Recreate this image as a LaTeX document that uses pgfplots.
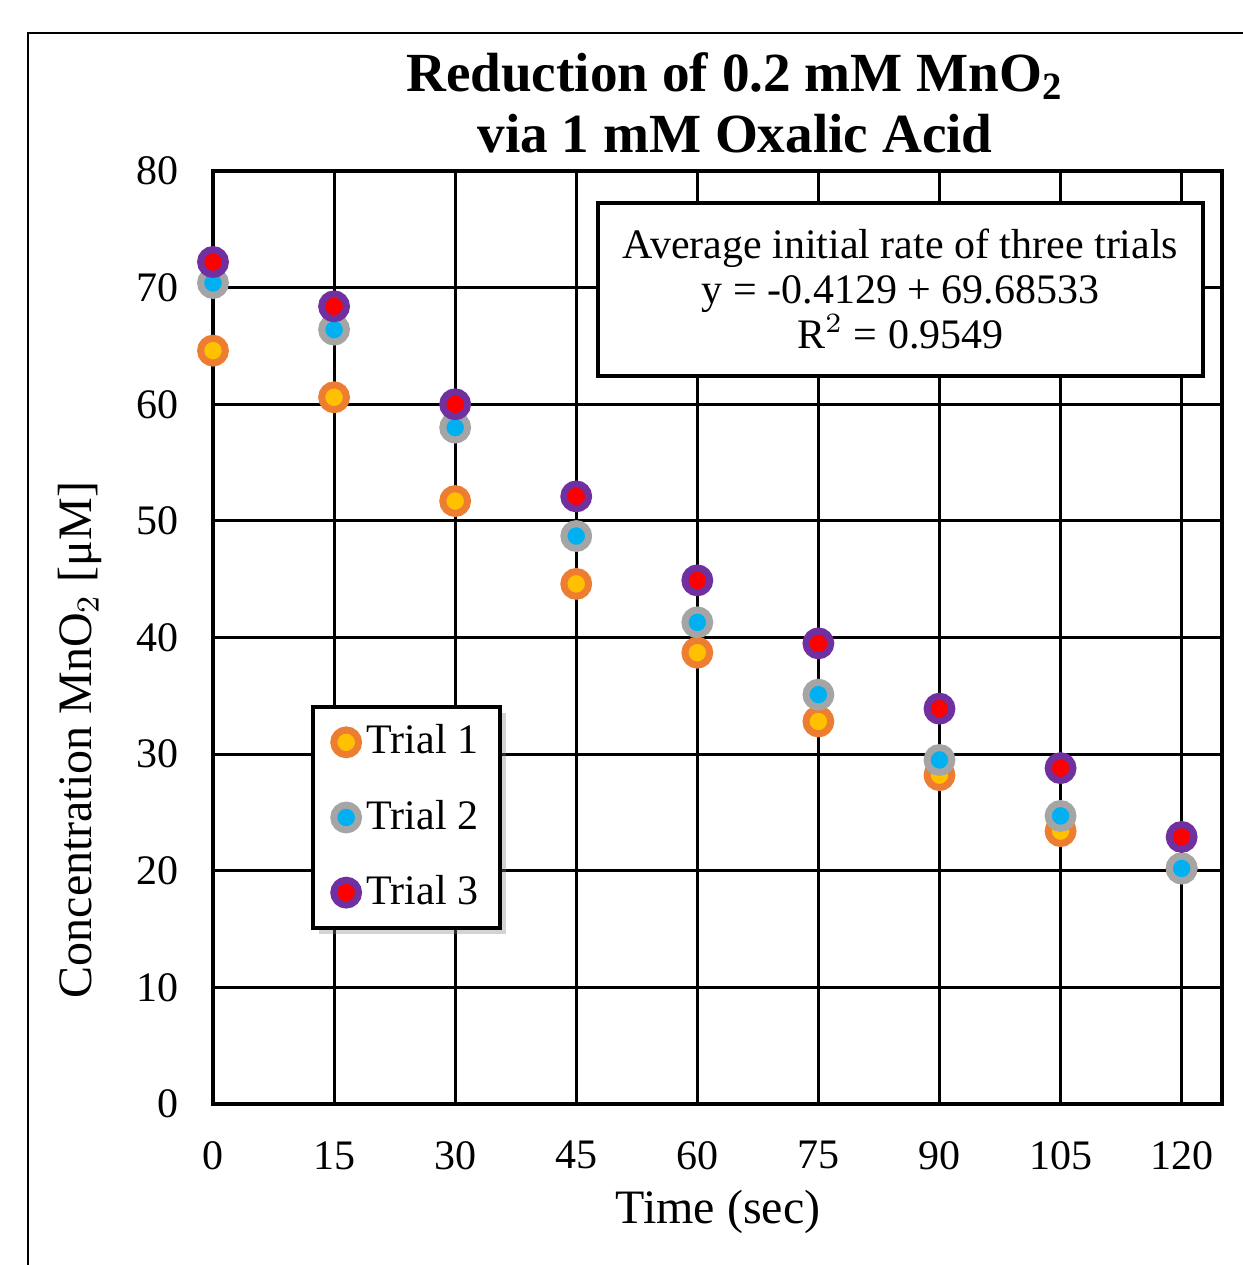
\documentclass[border=0pt]{standalone}
\usepackage{fontspec}
\setmainfont{Liberation Serif}
\usepackage{pgfplots}
\pgfplotsset{compat=1.18}
\usetikzlibrary{shadows}
\definecolor{ringA}{HTML}{ED7D31}
\definecolor{fillA}{HTML}{FFC000}
\definecolor{ringB}{HTML}{A5A5A5}
\definecolor{fillB}{HTML}{00B0F0}
\definecolor{ringC}{HTML}{7030A0}
\definecolor{fillC}{HTML}{FF0000}
\begin{document}
\begin{tikzpicture}
\useasboundingbox (0,0) rectangle (310.75pt,316.25pt);
% outer frame (chart area border)
\draw[line width=0.5pt] (7pt,0) -- (7pt,308pt) -- (310.75pt,308pt);
\begin{axis}[
    at={(53.25pt,40.25pt)}, anchor=south west,
    scale only axis,
    width=252.25pt, height=233.25pt,
    xmin=0, xmax=125, ymin=0, ymax=80,
    xtick={0,15,...,120}, ytick={0,10,...,80},
    major tick length=0pt,
    grid=major,
    grid style={black, line width=0.75pt},
    axis line style={line width=1pt},
    tick label style={font=\fontsize{10.5}{12.5}\selectfont},
    /pgf/number format/assume math mode=true,
    xticklabel style={yshift=-5.8pt},
    yticklabel style={xshift=-5pt},
    clip=false,
    legend style={at={(axis description cs:0.0971,0.4277)}, anchor=north west,
        draw=black, line width=0.9pt, fill=white,
        font=\fontsize{10.5}{12.5}\selectfont,
        drop shadow={shadow xshift=1.5pt, shadow yshift=-1.5pt, opacity=0.35},
        row sep=6pt, inner xsep=3.5pt, inner ysep=2.5pt},
    legend cell align=left,
    legend image code/.code={\path (0pt,0pt) (6pt,0pt);\draw[#1] plot coordinates {(4.4pt,0pt)};},
]
% annotation box
\draw[fill=white, line width=0.9pt] (axis description cs:0.3816,0.9657) rectangle (axis description cs:0.9812,0.7803);
\node[align=center, font=\fontsize{10.5}{11.25}\selectfont] at (axis description cs:0.6814,0.874)
  {Average initial rate of three trials\\ y = -0.4129 + 69.68533\\ R\smash{$^2$} = 0.9549};
\addplot[only marks, mark=*, mark size=3.1pt, mark options={draw=ringA, fill=fillA, line width=1.75pt}]
  coordinates {(0,64.6) (15,60.6) (30,51.7) (45,44.6) (60,38.7) (75,32.8) (90,28.2) (105,23.4) (120,20.2)};
\addlegendentry{Trial 1}
\addplot[only marks, mark=*, mark size=3.1pt, mark options={draw=ringB, fill=fillB, line width=1.75pt}]
  coordinates {(0,70.4) (15,66.4) (30,58.0) (45,48.7) (60,41.3) (75,35.1) (90,29.5) (105,24.7) (120,20.2)};
\addlegendentry{Trial 2}
\addplot[only marks, mark=*, mark size=3.1pt, mark options={draw=ringC, fill=fillC, line width=1.75pt}]
  coordinates {(0,72.2) (15,68.4) (30,60.0) (45,52.1) (60,44.9) (75,39.5) (90,33.9) (105,28.8) (120,22.9)};
\addlegendentry{Trial 3}
\end{axis}
% title
\node[align=center, font=\fontsize{13.8}{15.25}\selectfont\bfseries] at (183.75pt,290.6pt)
  {Reduction of 0.2 mM MnO$_\mathbf{2}$\\ via 1 mM Oxalic Acid};
% axis labels
\node[font=\fontsize{12}{14}\selectfont] at (179.5pt,13.25pt) {Time (sec)};
\node[rotate=90, font=\fontsize{12}{14}\selectfont] at (20pt,131.25pt) {Concentration MnO$_2$ [μM]};
\end{tikzpicture}
\end{document}
